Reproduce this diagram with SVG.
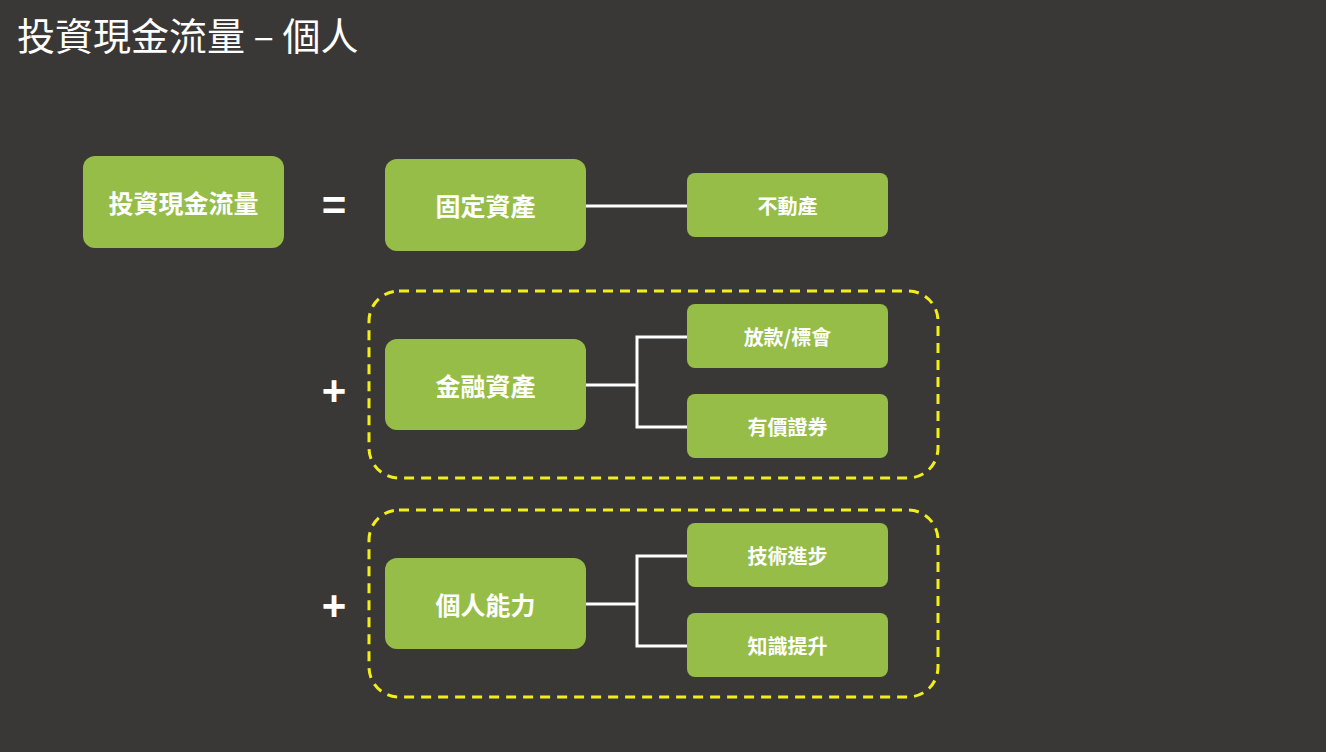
<svg xmlns="http://www.w3.org/2000/svg" width="1326" height="752" viewBox="0 0 1326 752">
<style>
.n{fill:#95bd48}
.t{fill:#fff;font-family:"Noto Sans CJK TC","Noto Sans CJK SC",sans-serif;font-weight:bold;text-anchor:middle;dominant-baseline:central}
.op{fill:#fff;font-family:"Liberation Sans",sans-serif;font-weight:bold;font-size:42px;text-anchor:middle;dominant-baseline:central}
.c{stroke:#fff;stroke-width:3;fill:none}
.d{stroke:#f2ee1a;stroke-width:3;stroke-dasharray:10 7;fill:none}
</style>
<rect width="1326" height="752" fill="#3a3836"/>
<text x="17" y="33" fill="#fff" font-family="'Noto Sans CJK TC','Noto Sans CJK SC',sans-serif" font-size="38" dominant-baseline="central">投資現金流量 – 個人</text>
<rect class="d" x="369" y="291" width="569" height="187" rx="30"/>
<rect class="d" x="369" y="510" width="569" height="187" rx="30"/>
<g id="connectors">
<path class="c" d="M586 206H687"/>
<path class="c" d="M586 385H637M687 337H637V427H687"/>
<path class="c" d="M586 604H637M687 556H637V646H687"/>
</g>
<text class="op" x="334" y="205">=</text>
<text class="op" x="334" y="390">+</text>
<text class="op" x="334" y="605">+</text>
<g id="n1"><rect class="n" x="83" y="156" width="201" height="92" rx="12"/><text class="t" x="183.5" y="202" font-size="25">投資現金流量</text></g>
<g id="n2"><rect class="n" x="385" y="159" width="201" height="92" rx="12"/><text class="t" x="485.5" y="205" font-size="25">固定資產</text></g>
<g id="n3"><rect class="n" x="687" y="173" width="201" height="64" rx="8"/><text class="t" x="787.5" y="205" font-size="20">不動產</text></g>
<g id="n4"><rect class="n" x="385" y="339" width="201" height="91" rx="12"/><text class="t" x="485.5" y="385" font-size="25">金融資產</text></g>
<g id="n5"><rect class="n" x="687" y="304" width="201" height="64" rx="8"/><text class="t" x="787.5" y="336" font-size="20">放款/標會</text></g>
<g id="n6"><rect class="n" x="687" y="394" width="201" height="64" rx="8"/><text class="t" x="787.5" y="426" font-size="20">有價證券</text></g>
<g id="n7"><rect class="n" x="385" y="558" width="201" height="91" rx="12"/><text class="t" x="485.5" y="604" font-size="25">個人能力</text></g>
<g id="n8"><rect class="n" x="687" y="523" width="201" height="64" rx="8"/><text class="t" x="787.5" y="555" font-size="20">技術進步</text></g>
<g id="n9"><rect class="n" x="687" y="613" width="201" height="64" rx="8"/><text class="t" x="787.5" y="645" font-size="20">知識提升</text></g>
</svg>
